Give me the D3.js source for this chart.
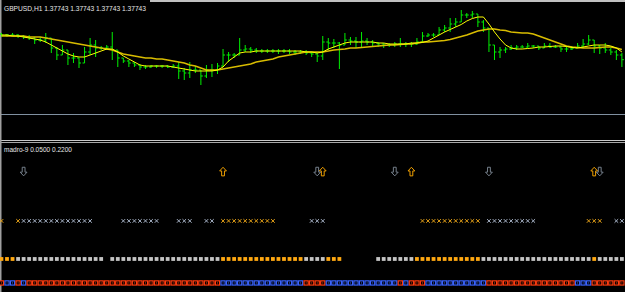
<!DOCTYPE html>
<html>
<head>
<meta charset="utf-8">
<script src="https://cdn.jsdelivr.net/npm/d3@7"></script>
<style>
  html, body { margin: 0; padding: 0; background: #000; overflow: hidden; }
</style>
</head>
<body>
<div id="chart"></div>
<script>
// GBPUSD H1 bars
const opens = [1.3800,1.3799,1.3799,1.3799,1.3798,1.3797,1.3796,1.3794,1.3794,1.3796,
  1.3786,1.3779,1.3784,1.3776,1.3776,1.3771,1.3782,1.3789,1.3786,1.3786,
  1.3787,1.3784,1.3776,1.3773,1.3771,1.3769,1.3767,1.3767,1.3768,1.3768,
  1.3768,1.3767,1.3768,1.3763,1.3761,1.3764,1.3764,1.3758,1.3764,1.3764,
  1.3768,1.3779,1.3779,1.3779,1.3784,1.3785,1.3784,1.3783,1.3783,1.3783,
  1.3783,1.3783,1.3783,1.3782,1.3782,1.3782,1.3781,1.3780,1.3778,1.3792,
  1.3791,1.3791,1.3789,1.3794,1.3793,1.3792,1.3793,1.3792,1.3791,1.3790,
  1.3789,1.3789,1.3790,1.3790,1.3790,1.3790,1.3792,1.3798,1.3799,1.3799,
  1.3804,1.3806,1.3810,1.3812,1.3819,1.3819,1.3820,1.3812,1.3806,1.3789,
  1.3782,1.3784,1.3785,1.3786,1.3787,1.3787,1.3788,1.3788,1.3786,1.3788,
  1.3787,1.3787,1.3785,1.3785,1.3786,1.3788,1.3790,1.3794,1.3788,1.3786,
  1.3784,1.3782,1.3779];
const highs = [1.3801,1.3800,1.3801,1.3800,1.3799,1.3799,1.3797,1.3797,1.3801,1.3796,
  1.3787,1.3789,1.3784,1.3781,1.3776,1.3787,1.3796,1.3794,1.3788,1.3789,
  1.3802,1.3784,1.3776,1.3774,1.3772,1.3770,1.3769,1.3769,1.3769,1.3769,
  1.3769,1.3770,1.3772,1.3766,1.3772,1.3768,1.3764,1.3769,1.3770,1.3771,
  1.3785,1.3782,1.3781,1.3796,1.3789,1.3787,1.3786,1.3785,1.3785,1.3785,
  1.3785,1.3785,1.3785,1.3784,1.3784,1.3784,1.3782,1.3781,1.3798,1.3796,
  1.3795,1.3792,1.3801,1.3797,1.3797,1.3802,1.3796,1.3794,1.3792,1.3791,
  1.3791,1.3792,1.3796,1.3792,1.3792,1.3796,1.3802,1.3801,1.3801,1.3807,
  1.3809,1.3816,1.3816,1.3824,1.3821,1.3823,1.3820,1.3814,1.3806,1.3789,
  1.3787,1.3787,1.3789,1.3789,1.3789,1.3791,1.3789,1.3788,1.3791,1.3791,
  1.3789,1.3788,1.3787,1.3788,1.3791,1.3795,1.3799,1.3794,1.3789,1.3791,
  1.3786,1.3784,1.3781];
const lows = [1.3797,1.3797,1.3798,1.3796,1.3795,1.3794,1.3790,1.3792,1.3791,1.3781,
  1.3774,1.3779,1.3769,1.3771,1.3766,1.3771,1.3779,1.3777,1.3784,1.3784,
  1.3774,1.3767,1.3771,1.3767,1.3767,1.3764,1.3765,1.3766,1.3766,1.3766,
  1.3766,1.3766,1.3755,1.3754,1.3756,1.3761,1.3749,1.3756,1.3757,1.3760,
  1.3767,1.3772,1.3776,1.3779,1.3782,1.3781,1.3781,1.3781,1.3781,1.3781,
  1.3780,1.3781,1.3780,1.3779,1.3780,1.3779,1.3777,1.3772,1.3774,1.3784,
  1.3786,1.3765,1.3789,1.3789,1.3786,1.3786,1.3789,1.3787,1.3787,1.3786,
  1.3787,1.3787,1.3787,1.3787,1.3787,1.3789,1.3791,1.3797,1.3797,1.3799,
  1.3802,1.3802,1.3807,1.3812,1.3816,1.3816,1.3807,1.3802,1.3782,1.3774,
  1.3776,1.3781,1.3784,1.3784,1.3786,1.3786,1.3786,1.3784,1.3786,1.3786,
  1.3786,1.3782,1.3782,1.3784,1.3786,1.3786,1.3789,1.3781,1.3780,1.3781,
  1.3779,1.3774,1.3767];
const closes = [1.3799,1.3799,1.3799,1.3798,1.3797,1.3796,1.3794,1.3794,1.3796,1.3786,
  1.3779,1.3784,1.3776,1.3776,1.3771,1.3782,1.3789,1.3786,1.3786,1.3787,
  1.3784,1.3776,1.3773,1.3771,1.3769,1.3767,1.3767,1.3768,1.3768,1.3768,
  1.3767,1.3768,1.3763,1.3761,1.3764,1.3764,1.3758,1.3764,1.3764,1.3768,
  1.3779,1.3779,1.3779,1.3784,1.3785,1.3784,1.3783,1.3783,1.3783,1.3783,
  1.3783,1.3783,1.3782,1.3782,1.3782,1.3781,1.3780,1.3778,1.3792,1.3791,
  1.3791,1.3789,1.3794,1.3793,1.3792,1.3793,1.3792,1.3791,1.3790,1.3789,
  1.3789,1.3790,1.3790,1.3790,1.3790,1.3792,1.3798,1.3799,1.3799,1.3804,
  1.3806,1.3810,1.3812,1.3819,1.3819,1.3820,1.3812,1.3806,1.3789,1.3782,
  1.3784,1.3785,1.3786,1.3787,1.3787,1.3788,1.3788,1.3786,1.3788,1.3787,
  1.3787,1.3785,1.3785,1.3786,1.3788,1.3790,1.3794,1.3788,1.3786,1.3784,
  1.3782,1.3779,1.37743];

// the two moving averages as drawn
const fastMA = [1.3799,1.3799,1.3798,1.3798,1.3797,1.3796,1.3795,1.3794,1.3792,1.3789,
  1.3786,1.3783,1.3780,1.3778,1.3777,1.3777,1.3779,1.3781,1.3783,1.3785,
  1.3785,1.3782,1.3778,1.3775,1.3772,1.3769,1.3768,1.3768,1.3768,1.3768,
  1.3768,1.3767,1.3766,1.3765,1.3764,1.3763,1.3763,1.3763,1.3763,1.3764,
  1.3767,1.3773,1.3777,1.3781,1.3782,1.3782,1.3783,1.3783,1.3783,1.3783,
  1.3783,1.3783,1.3783,1.3783,1.3783,1.3782,1.3782,1.3781,1.3782,1.3785,
  1.3787,1.3789,1.3791,1.3792,1.3792,1.3792,1.3792,1.3792,1.3791,1.3791,
  1.3790,1.3790,1.3790,1.3790,1.3791,1.3791,1.37915,1.3793,1.3796,1.3799,
  1.3802,1.38045,1.3807,1.38095,1.3813,1.38155,1.3817,1.3817,1.3810,1.3802,
  1.3795,1.3789,1.3786,1.3785,1.3785,1.37855,1.3786,1.3787,1.3787,1.37875,
  1.3788,1.3788,1.37875,1.37865,1.3786,1.3787,1.3788,1.3789,1.3789,1.3789,
  1.3788,1.3786,1.3782];
const slowMA = [1.3798,1.3798,1.3798,1.3798,1.3798,1.3797,1.3797,1.3797,1.3796,1.3795,
  1.3794,1.3793,1.3792,1.3791,1.3790,1.3789,1.3788,1.3787,1.3786,1.3785,
  1.3784,1.3782,1.3780,1.3779,1.3778,1.3777,1.3776,1.3776,1.3775,1.3775,
  1.3774,1.3773,1.3772,1.3771,1.3769,1.3768,1.3766,1.3764,1.3764,1.3764,
  1.3765,1.3766,1.3767,1.3768,1.3769,1.3770,1.3772,1.3773,1.3774,1.3775,
  1.3777,1.3778,1.3779,1.3780,1.3781,1.3782,1.3782,1.3782,1.3782,1.3783,
  1.3784,1.37845,1.3785,1.3786,1.3786,1.37865,1.3787,1.37875,1.3788,1.37885,
  1.3789,1.3789,1.37895,1.3790,1.3790,1.3791,1.3792,1.3792,1.37925,1.3793,
  1.37935,1.37945,1.3796,1.37975,1.3799,1.3801,1.3803,1.3804,1.3805,1.3805,
  1.3804,1.38035,1.3802,1.38015,1.3801,1.3801,1.3800,1.3798,1.3796,1.3794,
  1.3792,1.3790,1.3788,1.3787,1.37865,1.3786,1.3786,1.3786,1.37865,1.3787,
  1.3787,1.3786,1.37845];

// madro-9 sub window: runs of bars [first, last, colour code]
const crossRuns = [[0,0,"o"],[3,3,"o"],[4,16,"g"],[22,28,"g"],[32,34,"g"],[37,38,"g"],
  [40,49,"o"],[56,58,"g"],[76,86,"o"],[88,96,"g"],[106,108,"o"],[111,112,"g"]];
const dotRuns = [[0,2,"o"],[3,18,"g"],[20,39,"g"],[40,54,"o"],[55,58,"g"],[59,61,"o"],
  [68,74,"g"],[75,86,"o"],[87,106,"g"],[107,107,"o"],[108,112,"g"]];
const boxRuns = [[0,0,"r"],[1,2,"b"],[3,3,"r"],[4,4,"b"],[5,39,"r"],[40,54,"b"],[55,58,"r"],
  [59,71,"b"],[72,72,"r"],[73,73,"b"],[74,76,"r"],[77,87,"b"],[88,103,"r"],[104,106,"b"],[107,112,"r"]];
const upArrows = [40, 58, 74, 107];
const downArrows = [4, 57, 71, 88, 108];
const rowLevels = {arrow: 0.84, cross: 0.49, dot: 0.22, box: 0.05};

const width = 625, height = 292;

const svg = d3.select("#chart")
  .append("svg")
  .attr("width", width)
  .attr("height", height)
  .style("display", "block")
  .style("background", "#000");

const n = closes.length;
const x = d3.scaleLinear().domain([0, n - 1]).range([1.46, 621.9]);
const y = d3.scaleLinear().domain([1.3720, 1.3834]).range([114, 0]);
const sub = d3.scaleLinear().domain([0, 1]).range([290, 149]);

// frame lines
svg.append("line").attr("x1", 150).attr("x2", width).attr("y1", 1).attr("y2", 1)
  .attr("stroke", "#c0c0c0").attr("stroke-width", 2);
svg.append("line").attr("x1", 0).attr("x2", width).attr("y1", 114.5).attr("y2", 114.5)
  .attr("stroke", "#8090a0");
svg.append("line").attr("x1", 0).attr("x2", width).attr("y1", 140.5).attr("y2", 140.5)
  .attr("stroke", "#c8c8c8");
svg.append("line").attr("x1", 0).attr("x2", width).attr("y1", 142.5).attr("y2", 142.5)
  .attr("stroke", "#a8a8a8");
svg.append("line").attr("x1", 0.75).attr("x2", 0.75).attr("y1", 0).attr("y2", height)
  .attr("stroke", "#a0a0a0").attr("stroke-width", 1.5);

// price bars
const bars = svg.append("g").attr("stroke", "#00f000").attr("stroke-width", 1);
d3.range(n).forEach(i => {
  const cx = x(i);
  bars.append("line").attr("x1", cx).attr("x2", cx)
    .attr("y1", y(highs[i])).attr("y2", y(lows[i]));
  bars.append("line").attr("x1", cx - 2).attr("x2", cx)
    .attr("y1", y(opens[i])).attr("y2", y(opens[i]));
  bars.append("line").attr("x1", cx).attr("x2", cx + 2)
    .attr("y1", y(closes[i])).attr("y2", y(closes[i]));
});

// moving averages
const maLine = d3.line().x((d, i) => x(i)).y(d => y(d));
svg.append("path").datum(slowMA).attr("d", maLine)
  .attr("fill", "none").attr("stroke", "#d8bc00").attr("stroke-width", 1.5);
svg.append("path").datum(fastMA).attr("d", maLine)
  .attr("fill", "none").attr("stroke", "#ffff00").attr("stroke-width", 1);

// titles
svg.append("text").attr("x", 4).attr("y", 10.5)
  .attr("font-family", "Liberation Sans, Arial, sans-serif").attr("font-size", 7.5)
  .attr("fill", "#e6e6e6").attr("textLength", 142).attr("lengthAdjust", "spacingAndGlyphs")
  .text("GBPUSD,H1  1.37743 1.37743 1.37743 1.37743");
svg.append("text").attr("x", 4).attr("y", 151.5)
  .attr("font-family", "Liberation Sans, Arial, sans-serif").attr("font-size", 7.5)
  .attr("fill", "#e6e6e6").attr("textLength", 68).attr("lengthAdjust", "spacingAndGlyphs")
  .text("madro-9 0.0500 0.2200");

const expand = runs => runs.flatMap(([a, b, c]) => d3.range(a, b + 1).map(i => ({i, c})));

// cross row
const crossCol = {o: "#e8a318", g: "#a8b4c8"};
const cy = sub(rowLevels.cross);
const crosses = svg.append("g").attr("stroke-width", 1);
expand(crossRuns).forEach(d => {
  const cx = x(d.i);
  crosses.append("path")
    .attr("d", `M${cx - 1.8},${cy - 1.8}L${cx + 1.8},${cy + 1.8}M${cx + 1.8},${cy - 1.8}L${cx - 1.8},${cy + 1.8}`)
    .attr("stroke", crossCol[d.c]);
});

// dot row
const dotCol = {o: "#ffa811", g: "#c4c4c4"};
svg.append("g").selectAll("rect").data(expand(dotRuns)).join("rect")
  .attr("x", d => x(d.i) - 1.9).attr("y", sub(rowLevels.dot) - 1.9)
  .attr("width", 3.8).attr("height", 3.8)
  .attr("fill", d => dotCol[d.c]);

// box row
const boxCol = {r: "#ff3c10", b: "#3a64ff"};
const boxes = svg.append("g");
expand(boxRuns).forEach(d => {
  const cx = x(d.i), by = sub(rowLevels.box);
  boxes.append("rect").attr("x", cx - 2.1).attr("y", by - 2.1).attr("width", 4.2).attr("height", 4.2)
    .attr("fill", "#000").attr("stroke", boxCol[d.c]).attr("stroke-width", 1.2);
  boxes.append("rect").attr("x", cx - 0.5).attr("y", by - 0.5).attr("width", 1).attr("height", 1)
    .attr("fill", boxCol[d.c]);
});

// arrows
const ay = sub(rowLevels.arrow);
const upPath = "M0,-4.3L3.4,-0.6L1.4,-0.6L1.4,4.3L-1.4,4.3L-1.4,-0.6L-3.4,-0.6Z";
const downPath = "M0,4.3L3.4,0.6L1.4,0.6L1.4,-4.3L-1.4,-4.3L-1.4,0.6L-3.4,0.6Z";
svg.append("g").selectAll("path").data(upArrows).join("path")
  .attr("transform", d => `translate(${x(d)},${ay})`)
  .attr("d", upPath).attr("fill", "#000").attr("stroke", "#f0a000").attr("stroke-width", 1);
svg.append("g").selectAll("path").data(downArrows).join("path")
  .attr("transform", d => `translate(${x(d)},${ay})`)
  .attr("d", downPath).attr("fill", "#000").attr("stroke", "#76808c").attr("stroke-width", 1);
</script>
</body>
</html>
